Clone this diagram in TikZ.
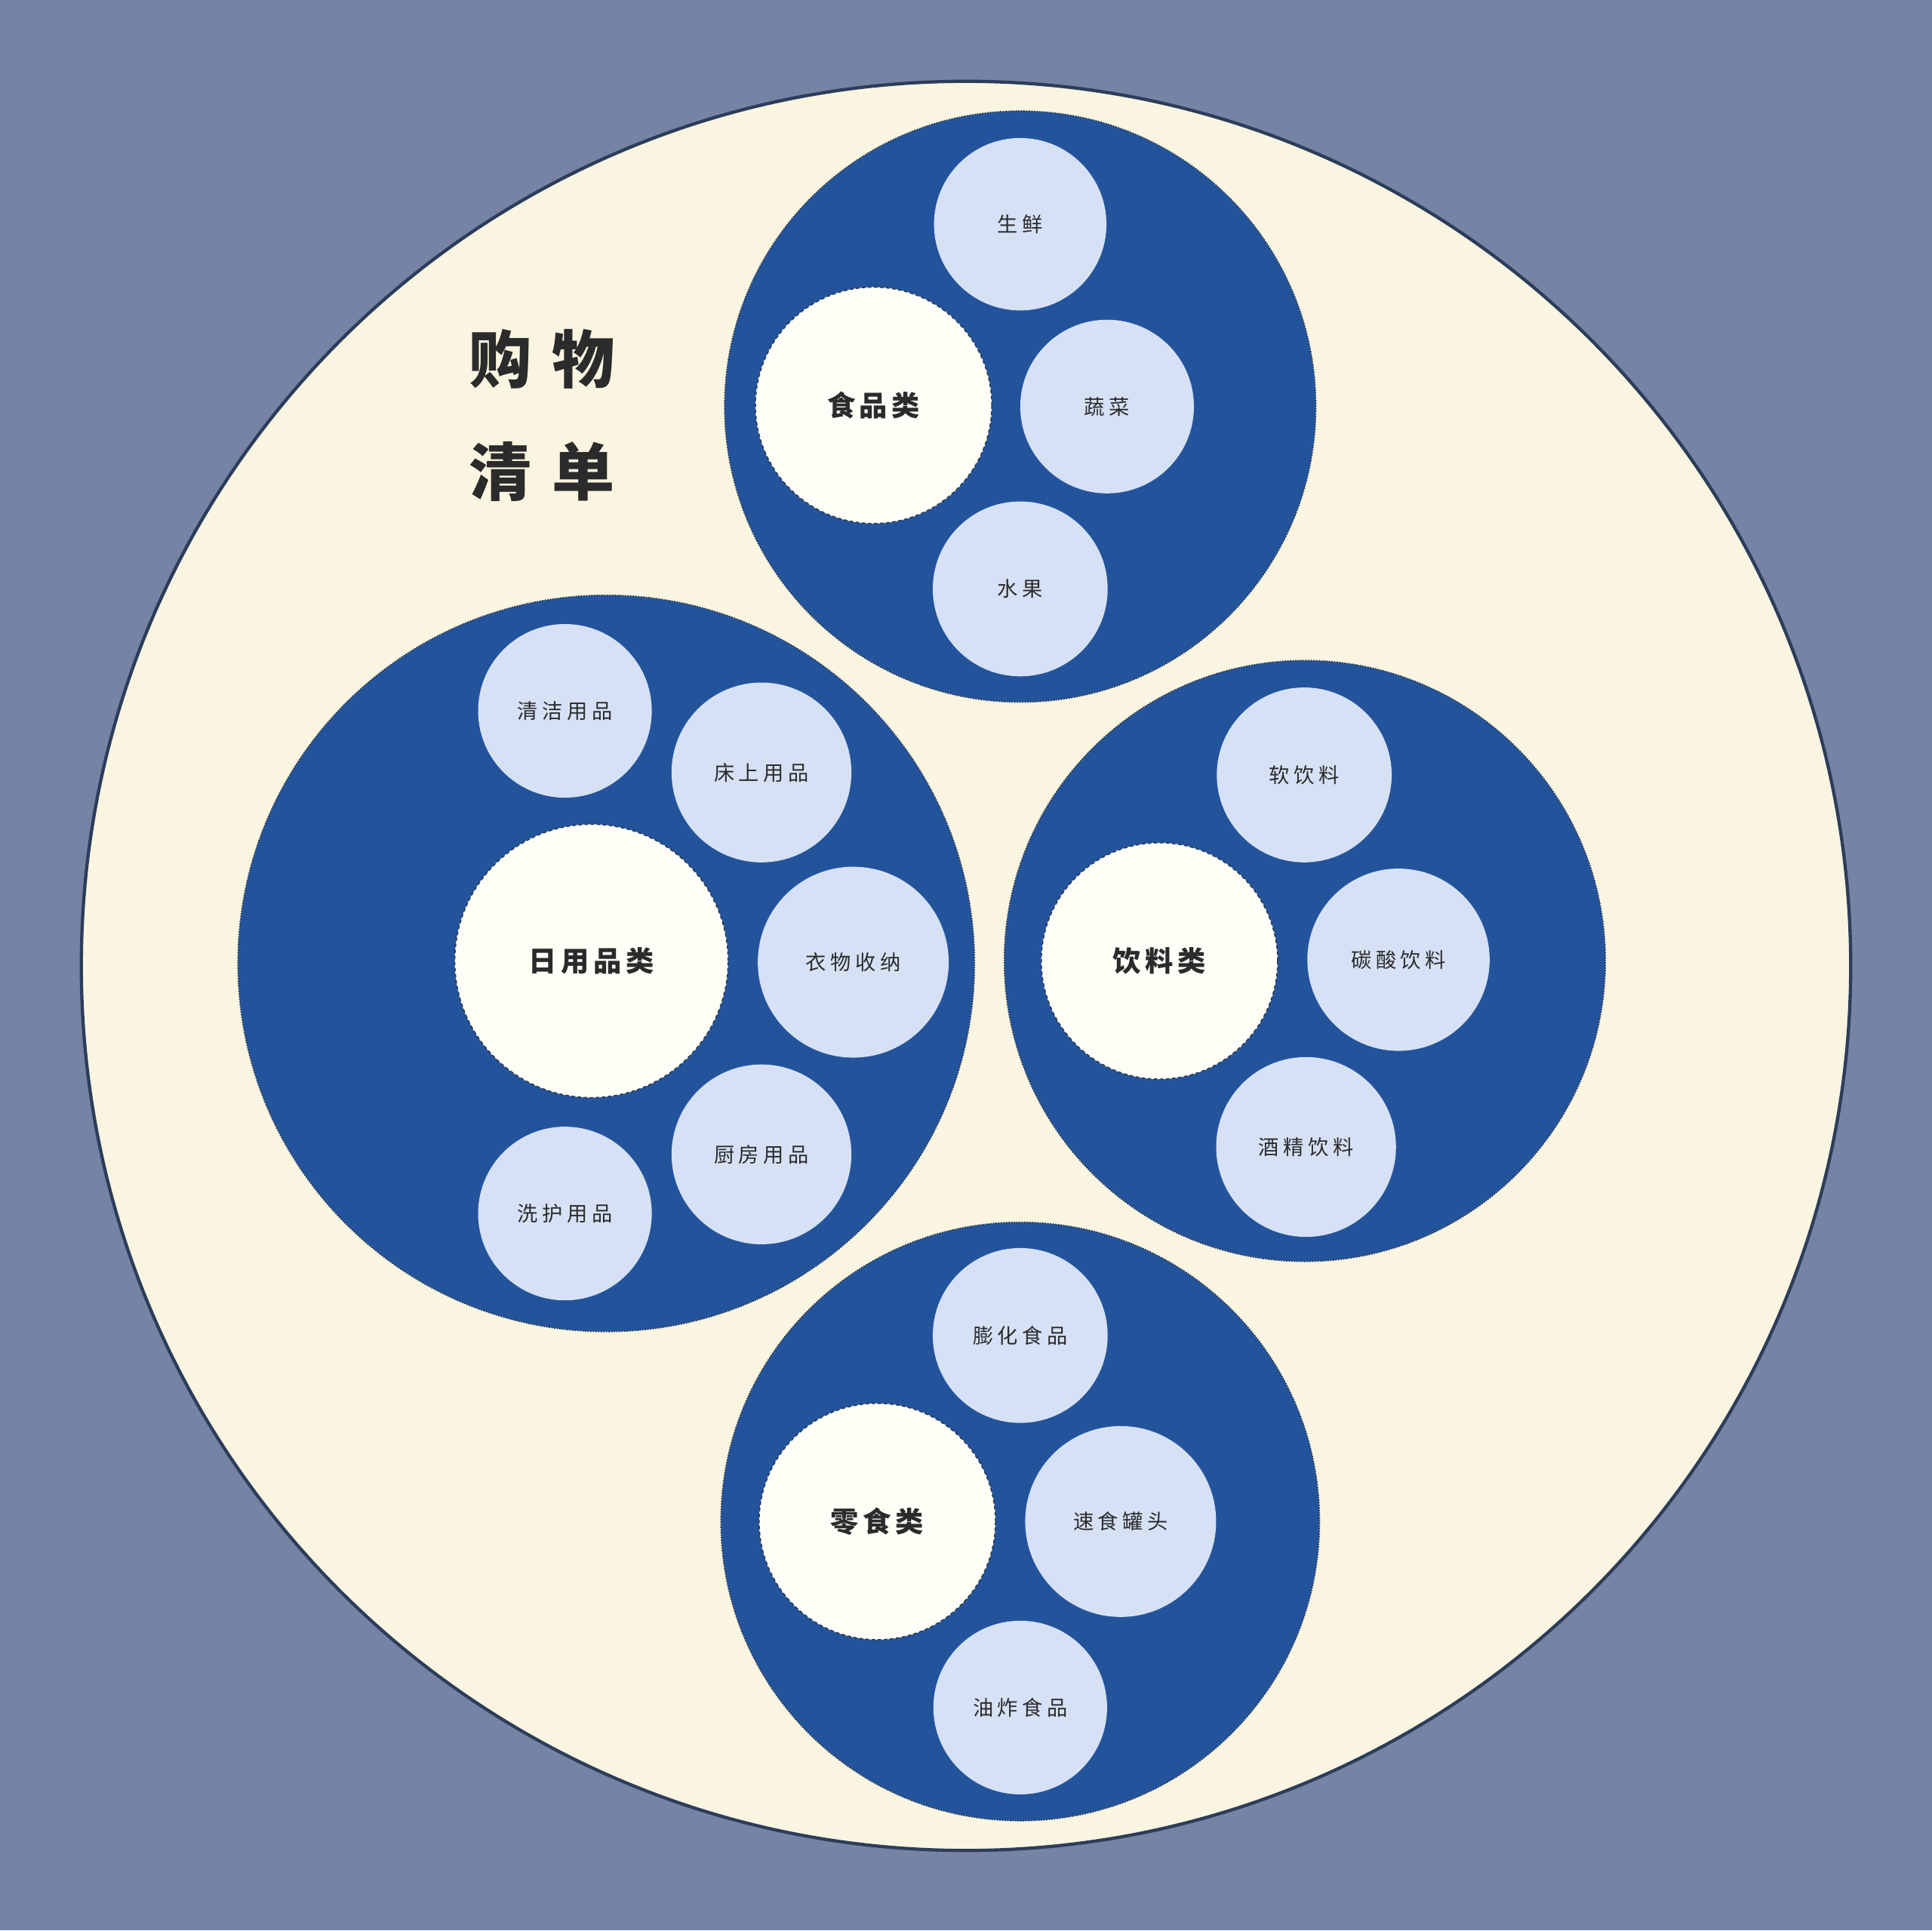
\documentclass[tikz,border=0pt]{standalone}
\usepackage{fontspec}
\setmainfont{Noto Sans CJK SC}
\usepackage{tikz}
\usetikzlibrary{positioning}
\definecolor{slatebg}{HTML}{7783A5}
\definecolor{creamdisc}{HTML}{F9F5E1}
\definecolor{rimdark}{HTML}{2C3D5A}
\definecolor{groupblue}{HTML}{23549B}
\definecolor{leafblue}{HTML}{D6E1F5}
\definecolor{hubwhite}{HTML}{FEFEF7}
\definecolor{inkgray}{HTML}{2B2B2B}
\tikzset{
	group/.style={circle,fill=groupblue,draw=rimdark,line width=0.6pt,dash pattern=on 0.6pt off 0.6pt,minimum size=#1*0.04cm,inner sep=0pt},
	hub/.style={circle,fill=hubwhite,draw=rimdark,line width=0.6pt,dash pattern=on 1.6pt off 1.2pt,minimum size=#1*0.04cm,inner sep=0pt,text=inkgray,font=\fontsize{13}{15}\selectfont\bfseries\addfontfeature{LetterSpace=15}},
	leaf/.style={circle,fill=leafblue,minimum size=#1*0.04cm,inner sep=0pt,text=inkgray,font=\fontsize{9.5}{11}\selectfont\addfontfeature{LetterSpace=20}}
}

\begin{document}
\begin{tikzpicture}[x=0.02cm,y=-0.02cm]
	%%  canvas  %%%%%%%%
	\fill[slatebg] (0,0) rectangle (1568,1567);
	\useasboundingbox (0,0) rectangle (1568,1567);
	\draw[fill=creamdisc,draw=rimdark,line width=1.5pt] (784,784) circle (718);
	\node (title) at (440,337) [align=center,text=inkgray,font=\fontsize{29}{52}\selectfont\bfseries\addfontfeature{LetterSpace=32}] {购物\\清单};

	%%  食品类  %%%%%%%%
	\node[group=240] (food) at (828,330) {};
	\node[hub=96] (foodhub) at (709,329) {食品类};
	\node[leaf=70] (fresh) at (828,182) {生鲜};
	\node[leaf=70.5] (veg) at (898.5,330) {蔬菜};
	\node[leaf=71] (fruit) at (828,478) {水果};

	%%  日用品类  %%%%%%%%
	\node[group=299] (daily) at (492,782) {};
	\node[hub=111] (dailyhub) at (480,780) {日用品类};
	\node[leaf=70.5] (clean) at (458.5,577) {清洁用品};
	\node[leaf=73] (bed) at (618,627) {床上用品};
	\node[leaf=77.5] (cloth) at (692.5,781) {衣物收纳};
	\node[leaf=73] (kitchen) at (618,937) {厨房用品};
	\node[leaf=70.5] (wash) at (458.5,985) {洗护用品};

	%%  饮料类  %%%%%%%%
	\node[group=244] (drink) at (1059,780) {};
	\node[hub=96] (drinkhub) at (941,780) {饮料类};
	\node[leaf=71] (soft) at (1058.5,629) {软饮料};
	\node[leaf=74] (soda) at (1135,779) {碳酸饮料};
	\node[leaf=73] (liquor) at (1060,931) {酒精饮料};

	%%  零食类  %%%%%%%%
	\node[group=243] (snack) at (828,1235) {};
	\node[hub=96] (snackhub) at (712,1235) {零食类};
	\node[leaf=71] (puffed) at (828,1084) {膨化食品};
	\node[leaf=77.5] (canned) at (909.5,1235) {速食罐头};
	\node[leaf=70.5] (fried) at (828,1386) {油炸食品};
	%%%%%%%%%%%%%%%
\end{tikzpicture}
\end{document}
